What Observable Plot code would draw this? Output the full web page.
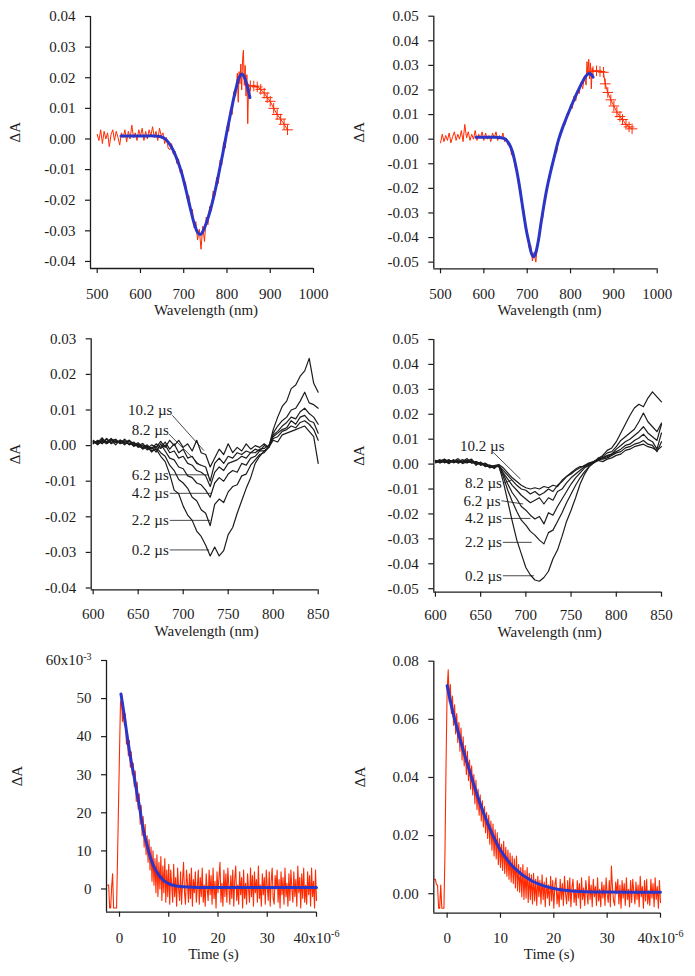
<!DOCTYPE html>
<html><head><meta charset="utf-8">
<script src="https://cdn.jsdelivr.net/npm/d3@7"></script>
<script src="https://cdn.jsdelivr.net/npm/@observablehq/plot@0.6"></script>
<style>
body{margin:0;background:#fff;}
#fig{position:relative;width:695px;height:976px;background:#fff;overflow:hidden;}
#fig > div{position:absolute;}
#fig svg, #fig svg text{font-family:"Liberation Serif","Times New Roman",serif !important;}
</style></head><body><div id="fig"></div>
<script>
// ---------- Panel 1 (top-left): spectrum, values in 10^-3 ΔA ----------
const p1RedWl = [500,504,508,512,516,520,524,528,532,536,540,544,548,552,556,560,564,568,572,576,580,584,588,592,596,600,604,608,612,616,620,624,628,632,636,640,644,648,652,656,660,664,668,672,676,680,684,688,692,696,700,704,708,712,716,720,724,728,732,736,740,744,748,752,756,760,764,768,772,776,780,784,788,792,796,800,804,808,812,816,820,824,826,828,830,832,834,836,838,840,842,844,846,848,850,852,854];
const p1RedVal = [1.5,-0.5,3.0,-1.5,2.5,0.0,2.0,-2.5,1.5,3.0,-0.5,2.5,0.5,-2.0,2.0,0.5,3.0,-1.0,2.5,0.0,4.5,0.5,2.0,-0.5,3.0,1.0,3.5,-0.5,2.5,0.0,3.0,1.0,4.0,0.5,2.5,-0.5,3.5,1.0,2.0,-1.5,0.5,-3.0,-3.5,-1.5,-5.0,-4.0,-8.0,-6.5,-11.0,-10.0,-15.0,-14.0,-19.5,-18.5,-24.0,-23.0,-29.0,-27.0,-33.0,-29.5,-36.0,-28.5,-33.5,-25.5,-28.0,-22.0,-23.5,-17.0,-18.5,-12.5,-14.5,-7.0,-8.5,-1.0,-3.0,4.0,2.5,9.5,8.0,15.5,14.0,21.5,12.0,22.0,18.0,24.5,16.0,26.0,29.0,17.5,24.0,14.0,21.0,5.0,18.0,14.0,17.0];
const p1TailWl = [854,862,870,878,886,893,900,908,916,924,932,940];
const p1TailVal = [17.4,17.3,17.0,16.2,15.0,13.5,12.3,10.0,8.0,6.5,4.8,3.0];
const p1FitWl = [555,570,590,610,630,645,655,665,675,685,695,705,715,725,732,738,745,752,760,770,780,790,800,810,820,828,835,842,848,853];
const p1FitVal = [1.0,1.0,1.0,1.0,1.0,0.8,0.2,-1.2,-3.5,-6.8,-11.0,-16.5,-22.5,-28.0,-30.5,-31.2,-30.0,-27.5,-24.0,-18.5,-12.0,-5.0,2.5,9.5,16.0,20.0,21.2,19.5,16.5,13.5];
const p1XTicks = [500,600,700,800,900,1000];
const p1XLabels = ["500","600","700","800","900","1000"];
const p1YTicks = [-40,-30,-20,-10,0,10,20,30,40];
const p1YLabels = ["-0.04","-0.03","-0.02","-0.01","0.00","0.01","0.02","0.03","0.04"];

// ---------- Panel 2 (top-right) ----------
const p2RedWl = [500,504,508,512,516,520,524,528,532,536,540,544,548,552,556,560,564,568,572,576,580,584,588,592,596,600,604,608,612,616,620,624,628,632,636,640,644,648,652,656,660,664,668,672,676,680,684,688,692,696,700,704,708,712,716,720,724,728,732,736,740,744,748,752,756,760,764,768,772,776,780,784,788,792,796,800,804,808,812,816,820,824,828,832,836,838,840,842,844,846,848,850,852];
const p2RedVal = [-1.5,2.0,-1.0,1.5,-0.5,2.5,-1.5,1.0,3.0,-0.5,2.0,0.0,3.5,-1.0,6.0,0.5,3.0,-0.5,2.0,0.0,3.5,-0.5,2.0,0.5,3.0,-0.5,2.5,0.0,1.5,-1.0,2.5,0.5,3.0,-0.5,1.5,0.0,2.5,-1.0,0.5,-2.5,-2.0,-6.5,-5.0,-11.5,-12.0,-18.5,-19.0,-28.0,-29.0,-36.5,-37.0,-44.0,-43.0,-49.5,-46.0,-50.0,-42.5,-41.0,-33.0,-32.0,-24.5,-23.0,-16.5,-16.0,-10.5,-10.0,-5.0,-5.5,-0.5,1.5,3.0,6.5,6.0,10.5,10.0,14.0,12.5,17.5,15.5,20.0,18.5,23.0,20.5,25.5,22.0,31.5,26.0,32.5,24.5,31.0,20.5,29.0,27.5];
const p2TailWl = [852,860,868,876,880,886,893,900,907,914,920,928,935,942];
const p2TailVal = [27.5,27.8,27.5,27.2,22.5,19.0,16.0,13.5,11.0,9.2,8.0,6.0,5.0,4.2];
const p2FitWl = [582,600,620,640,650,658,665,672,680,686,692,698,704,710,715,720,726,732,738,745,753,762,772,782,792,803,815,826,836,843,848,852];
const p2FitVal = [0.8,0.8,0.8,0.6,0.0,-1.8,-4.6,-9.5,-16.8,-23.5,-30.5,-37.0,-42.0,-46.5,-47.8,-46.0,-41.0,-34.0,-27.5,-20.5,-14.0,-7.5,-0.5,4.8,9.3,14.0,18.8,22.8,25.8,26.7,26.3,25.2];
const p2YTicks = [-50,-40,-30,-20,-10,0,10,20,30,40,50];
const p2YLabels = ["-0.05","-0.04","-0.03","-0.02","-0.01","0.00","0.01","0.02","0.03","0.04","0.05"];

// ---------- Panel 3 (middle-left): time-resolved spectra ----------
const p3Wl = [600,605,610,615,620,625,630,635,640,645,650,655,660,665,670,675,680,685,690,695,700,705,710,715,720,725,730,735,740,745,750,755,760,765,770,775,780,785,790,795,800,805,810,815,820,825,830,835,840,845,850];
const p3Names = ["0.2 µs","2.2 µs","4.2 µs","6.2 µs","8.2 µs","10.2 µs"];
const p3T02 = [1.0,0.5,1.8,1.0,2.0,0.8,1.5,0.5,1.2,-0.2,0.3,-0.8,-0.5,-1.5,-1.0,-3.0,-4.5,-8.0,-12.5,-13.5,-17.0,-19.5,-21.0,-24.0,-25.5,-28.0,-31.0,-28.5,-31.0,-29.5,-25.0,-23.0,-19.0,-15.5,-12.0,-9.0,-5.0,-3.0,-1.5,-0.5,4.5,8.0,11.0,12.5,16.0,17.0,19.5,21.0,24.5,17.5,15.0];
const p3T22 = [1.2,0.2,1.5,0.8,1.8,1.0,1.2,0.2,1.5,0.0,0.5,-1.0,-0.2,-1.8,-0.5,-2.0,-3.0,-5.5,-7.0,-9.5,-10.5,-12.0,-14.5,-15.5,-18.0,-19.0,-22.5,-16.5,-15.0,-16.0,-13.0,-11.5,-11.0,-8.5,-8.0,-5.5,-4.0,-2.5,-2.0,-0.5,3.5,5.5,7.0,8.0,10.0,10.5,12.5,15.0,12.0,11.5,10.5];
const p3T42 = [0.8,1.2,0.5,1.8,0.8,1.6,0.5,1.4,0.2,0.8,-0.5,0.2,-1.2,-0.5,-1.8,0.5,-1.5,-3.5,-4.0,-6.0,-6.5,-8.5,-9.0,-10.5,-11.0,-12.5,-14.5,-10.5,-9.0,-10.0,-8.0,-7.0,-7.5,-5.0,-5.5,-3.5,-3.0,-1.5,-1.5,-0.5,3.0,4.0,5.5,6.5,8.0,7.5,9.5,10.5,9.0,8.0,6.0];
const p3T62 = [1.5,0.5,1.2,0.5,1.5,0.2,1.6,0.8,0.5,1.0,-0.2,-0.5,0.2,-1.0,-0.2,-0.8,0.2,-2.0,-1.5,-3.5,-3.0,-5.0,-5.5,-7.0,-7.5,-8.5,-11.5,-7.5,-6.0,-7.0,-5.0,-4.5,-4.0,-3.0,-3.5,-2.0,-2.0,-1.0,-0.8,0.0,2.5,3.5,4.5,5.0,7.0,6.0,8.0,8.5,7.0,6.5,3.5];
const p3T82 = [0.5,1.5,0.8,2.0,0.5,1.2,0.8,1.8,0.5,0.2,0.8,-0.5,-0.2,-0.8,0.5,-0.5,1.0,-1.0,0.5,-2.0,-1.0,-3.5,-3.0,-5.0,-5.5,-6.0,-10.0,-5.0,-3.5,-5.0,-3.0,-3.5,-2.0,-2.5,-1.5,-2.0,-1.0,-1.5,0.0,-0.5,2.0,2.5,4.0,4.5,5.5,5.0,6.5,7.0,6.0,4.5,1.5];
const p3T102 = [1.0,0.8,2.2,0.6,1.4,1.8,0.6,1.0,1.5,0.4,0.0,0.6,-0.8,0.2,-0.5,1.2,-0.5,1.5,0.0,1.5,-0.5,0.5,-1.5,1.5,-2.0,-2.5,-6.0,-3.5,-1.0,-2.5,0.5,-2.0,-0.5,-1.5,0.5,-1.0,0.0,-0.5,0.5,-0.5,1.5,1.0,3.0,3.5,4.0,4.5,5.0,5.5,4.0,2.5,-5.0];
const p3TextX = [684,684,684,684,684,688];
const p3TextY = [-29.3,-21.0,-13.4,-8.4,4.4,10.0];
const p3LeadX1 = [685,685,685,685,684,688];
const p3LeadY1 = [-29.3,-21.0,-13.4,-8.2,3.3,8.5];
const p3LeadX2 = [729,730,731,728.5,719,723];
const p3LeadY2 = [-29.3,-21.0,-13.4,-8.2,-5.6,-1.4];
const p3XTicks = [600,650,700,750,800,850];
const p3XLabels = ["600","650","700","750","800","850"];
const p3YTicks = [-40,-30,-20,-10,0,10,20,30];
const p3YLabels = ["-0.04","-0.03","-0.02","-0.01","0.00","0.01","0.02","0.03"];

// ---------- Panel 4 (middle-right) ----------
const p4Wl = p3Wl;
const p4T02 = [1.0,1.8,0.5,1.5,0.8,1.6,0.2,1.2,2.0,0.0,0.5,-0.8,-1.0,-1.5,-0.5,-7.0,-15.0,-23.0,-30.5,-36.0,-41.5,-44.5,-46.5,-47.0,-45.5,-43.0,-38.0,-34.5,-29.0,-23.0,-18.5,-13.5,-8.0,-4.0,-1.0,0.5,2.0,3.5,5.5,6.5,9.0,12.5,16.0,19.5,22.5,24.0,23.0,26.5,29.0,27.0,25.0];
const p4T22 = [1.5,0.5,1.2,0.2,1.8,0.5,1.0,2.2,0.5,1.0,-0.5,0.2,-1.5,-0.8,-1.0,-5.0,-10.5,-15.0,-19.0,-22.5,-24.5,-27.0,-28.5,-30.5,-32.0,-27.5,-26.5,-23.0,-19.5,-15.5,-12.0,-8.5,-5.5,-3.0,-1.0,0.5,2.5,3.0,4.5,5.0,7.0,9.5,11.0,12.5,14.0,17.0,20.5,17.0,15.0,13.0,16.5];
const p4T42 = [0.5,1.2,2.0,0.8,1.0,2.2,0.8,0.5,1.5,-0.5,0.8,-1.0,-0.5,-1.8,-0.2,-4.0,-8.0,-11.5,-14.0,-17.0,-18.5,-20.5,-22.0,-21.0,-24.0,-19.5,-20.5,-17.0,-14.0,-11.0,-8.0,-5.5,-3.5,-1.5,-0.5,1.0,2.0,2.5,3.5,4.0,6.0,7.5,9.0,10.0,11.5,13.0,15.0,12.5,11.0,9.5,16.0];
const p4T62 = [1.2,0.8,1.6,0.4,1.4,0.8,1.8,0.6,1.0,0.6,-0.2,0.4,-0.8,-1.2,-0.6,-3.5,-6.0,-8.5,-10.5,-12.5,-14.0,-15.5,-14.5,-13.5,-16.0,-13.5,-14.5,-11.0,-10.0,-7.5,-5.5,-4.0,-2.5,-1.0,0.0,1.0,1.5,2.5,3.0,4.0,5.0,6.0,7.5,8.0,9.5,10.5,12.0,10.0,9.0,6.0,12.5];
const p4T82 = [0.8,1.5,1.0,1.8,0.5,1.2,0.8,1.6,0.4,1.0,0.2,-0.6,-0.4,-1.0,-0.5,-2.5,-4.5,-6.5,-8.5,-10.0,-10.5,-12.0,-11.0,-12.5,-11.5,-10.0,-11.0,-8.5,-7.0,-5.0,-4.0,-2.5,-1.5,-0.5,0.5,1.0,2.0,2.0,2.5,3.5,4.5,5.0,6.5,7.0,8.0,8.5,9.5,8.0,7.5,5.0,9.0];
const p4T102 = [1.4,0.6,1.2,1.0,1.6,0.4,1.2,1.0,0.8,0.2,0.6,-0.2,-1.0,-0.6,-0.2,-1.5,-3.5,-5.5,-7.0,-8.5,-9.5,-10.0,-9.5,-10.0,-9.0,-9.5,-8.5,-9.0,-6.5,-5.0,-3.5,-2.0,-1.0,-1.0,0.0,0.5,1.5,1.0,2.0,2.5,3.5,4.0,5.5,6.0,7.0,7.5,8.0,7.0,6.5,5.5,7.0];
const p4TextX = [673.5,673.5,673.5,672,673.5,676.5];
const p4TextY = [-44.8,-31.4,-21.8,-14.7,-7.7,7.2];
const p4LeadX1 = [674.5,674.5,674.5,673,674.5,664];
const p4LeadY1 = [-44.8,-31.4,-21.8,-14.7,-7.7,4.7];
const p4LeadX2 = [709,706.5,705,697,684.5,694];
const p4LeadY2 = [-44.8,-31.4,-21.8,-16.0,-6.4,-6.0];
const p4YTicks = p2YTicks;
const p4YLabels = p2YLabels;

// ---------- Panels 5 and 6 (bottom): kinetic traces, time in 10^-6 s ----------
const tGrid = [
 -2.4,-2.2,-2.0,-1.8,-1.6,-1.4,-1.2,-1.0,-0.8,-0.6,
 -0.4,-0.2,0.0,0.2,
 0.4,0.6,0.8,1.0,1.2,1.4,1.6,1.8,2.0,2.2,2.4,2.6,2.8,3.0,3.2,3.4,3.6,3.8,4.0,4.2,
 4.4,4.6,4.8,5.0,5.2,5.4,5.6,5.8,6.0,6.2,6.4,6.6,6.8,7.0,7.2,7.4,7.6,7.8,8.0,8.2,
 8.4,8.6,8.8,9.0,9.2,9.4,9.6,9.8,10.0,
 10.2,10.4,10.6,10.8,11.0,11.2,11.4,11.6,11.8,12.0,
 12.2,12.4,12.6,12.8,13.0,13.2,13.4,13.6,13.8,14.0,
 14.2,14.4,14.6,14.8,15.0,15.2,15.4,15.6,15.8,16.0,
 16.2,16.4,16.6,16.8,17.0,17.2,17.4,17.6,17.8,18.0,
 18.2,18.4,18.6,18.8,19.0,19.2,19.4,19.6,19.8,20.0,
 20.2,20.4,20.6,20.8,21.0,21.2,21.4,21.6,21.8,22.0,
 22.2,22.4,22.6,22.8,23.0,23.2,23.4,23.6,23.8,24.0,
 24.2,24.4,24.6,24.8,25.0,25.2,25.4,25.6,25.8,26.0,
 26.2,26.4,26.6,26.8,27.0,27.2,27.4,27.6,27.8,28.0,
 28.2,28.4,28.6,28.8,29.0,29.2,29.4,29.6,29.8,30.0,
 30.2,30.4,30.6,30.8,31.0,31.2,31.4,31.6,31.8,32.0,
 32.2,32.4,32.6,32.8,33.0,33.2,33.4,33.6,33.8,34.0,
 34.2,34.4,34.6,34.8,35.0,35.2,35.4,35.6,35.8,36.0,
 36.2,36.4,36.6,36.8,37.0,37.2,37.4,37.6,37.8,38.0,
 38.2,38.4,38.6,38.8,39.0,39.2,39.4,39.6,39.8,40.0];
const p5RedVal = [
 1.0,1.0,-5.0,-5.0,0.5,4.0,-5.0,-5.0,-5.0,-5.0,
 8.0,22.0,36.0,49.0,
 50,44,47,43,46,38,41,35,39,32,36,30,33,27,31,23,28,21,25,17,
 22,14,19,11,17,9,14,7,13,5,11,2,10,1,8,-1,9,-2,7,0,
 8.5,-3,6,-1,8,-3.5,5,-2,6.5,
 -4,5,1,-3.5,6.5,-2,3,-4.5,5.5,0,
 -3,4.5,-4,2,7,-1,-4,5,1.5,-3.5,
 4,-2.5,5.5,-4.5,2.5,-1,4.5,-3.5,0.5,5,
 -4,3,-2,5.5,-3.5,1,-4.5,4,0,-3,
 5,-1.5,3.5,-4,5.5,-2.5,2,-5,4.5,-1,
 3,7,-3.5,1.5,-4.5,5,-2,4,-3.5,5.5,
 0.5,-4,3.5,-2.5,5,-4.5,2.5,6,-3,1,
 -4,4.5,-1.5,3,-5,5,-2.5,1.5,-4,4,
 0,-3.5,5.5,-2,3.5,-4.5,4.5,-1,2.5,-3.5,
 6,-2.5,1,-4.5,4,-1.5,3,-4,5,0.5,
 -3,4.5,-4.5,2,5.5,-2.5,-4,3.5,0,5,
 -3.5,2.5,-5,4.5,-1.5,3,-4,5.5,-2,1.5,
 -4.5,4,-3,5,0,-3.5,4.5,-2,2.5,-4.5,
 6,-1,3,-5,4,-2.5,5.5,-3.5,1,-4,
 4.5,-1.5,3.5,-4.5,5.5,-2,2,-5,5,-3];
const p5FitT = [0.3,0.8,1.3,1.8,2.3,2.9,3.5,4.0,4.5,5.0,5.5,6.0,6.5,7.0,8.0,9.0,10,11,12,14,16,20,25,30,35,40];
const p5FitVal = [51.2,47.0,42.5,38.0,34.0,30.0,25.5,22.0,18.0,14.5,12.0,9.5,7.5,5.8,3.6,2.2,1.4,0.9,0.7,0.5,0.4,0.4,0.4,0.4,0.4,0.4];
const p5XTicks = [0,10,20,30,40];
const p5XLabels = ["0","10","20","30","40x10"];
const p5YTicks = [0,10,20,30,40,50,60];
const p5YLabels = ["0","10","20","30","40","50","60x10"];
const expLabels = {"40x10": "-6", "60x10": "-3"};

const p6RedVal = [
 5,5,3,3,-5,-5,3,-5,-5,-5,
 15,45,70,77,
 66,72,62,68,58,65,55,62,52,59,49,57,46,54,44,51,41,49,39,46,
 36,44,34,41,31,39,29,36,27,34,25,32,23,30,21,28,19,27,17,25,
 15,24,13,22,12,21,10,19,9,
 17,8,18,7,16,6,15,5,14,4,
 13,3.5,12,2,13,1,10,0.5,9,-1,
 10,-2,8,-1.5,9,-3,7,-2,6.5,-3.5,
 7,-2.5,5,-4,6,-1,4.5,-3.5,6.5,-2,
 4,-4.5,5.5,-1.5,3,-4,6,-2.5,4.5,-5,
 3,5.5,-3.5,1,-4.5,5,-2,3.5,-4,6,
 0,-3.5,4.5,-2.5,5.5,-4.5,2,5,-3,1.5,
 -4,4.5,-1.5,3.5,-5,5.5,-2,2,-4,4.5,
 0.5,-3.5,6,-2,3,-4.5,5,-1,2.5,-4,
 5.5,-2.5,1.5,-4.5,4,-1.5,3,-4,5.5,0,
 -3,4.5,-4.5,9.5,2,-2.5,-4,4,0,5,
 -3.5,3,-5,4.5,-1.5,3.5,-4,5.5,-2,1.5,
 -4.5,4.5,-3,5,0.5,-3.5,4,-2,3,-4.5,
 6,-1,2.5,-5,4.5,-2.5,5,-3.5,1,-4,
 5,-1.5,3.5,-4.5,5.5,-2,2.5,-5,4.5,-3];
const p6FitT = [0,1,2,3,4,5,6,7,8,9,10,11,12,13,14,15,16,18,20,22,25,30,35,40];
const p6FitVal = [71.6,63,56,49.5,43.5,37.5,32,27,22.5,18.5,15,12.3,10,8.2,6.6,5.4,4.3,2.8,1.8,1.2,0.8,0.6,0.5,0.5];
const p6YTicks = [0,20,40,60,80];
const p6YLabels = ["0.00","0.02","0.04","0.06","0.08"];

// ---------- drawing ----------
const FONT = "'Liberation Serif','Times New Roman',serif";
const RED = "#ff2a00", BLUE = "#2b36c9", INK = "#1c1c1c";
const fig = document.getElementById("fig");
const pairs = (xs, ys) => xs.map((x, i) => ({x, y: ys[i]}));
const lookup = (ticks, labels) => d => labels[ticks.indexOf(d)];

function panel(o) {
  const chart = Plot.plot({
    width: o.width, height: o.height,
    marginTop: o.m[0], marginRight: o.m[1], marginBottom: o.m[2], marginLeft: o.m[3],
    style: {fontFamily: FONT, fontSize: "15px", color: INK, background: "transparent", maxWidth: "none", overflow: "visible"},
    x: {domain: o.xDomain},
    y: {domain: o.yDomain},
    marks: [
      ...o.marks,
      Plot.ruleX([o.xDomain[0]], {stroke: INK, strokeWidth: 1.3}),
      Plot.ruleY([o.yDomain[0]], {stroke: INK, strokeWidth: 1.3}),
      Plot.axisX(o.xTicks, {tickSize: 5, tickPadding: o.xPad, tickFormat: lookup(o.xTicks, o.xLabels), label: null, stroke: INK, strokeWidth: 1.2, fontSize: 15, fontFamily: FONT}),
      Plot.axisY(o.yTicks, {tickSize: 5, tickPadding: 10, tickFormat: lookup(o.yTicks, o.yLabels), label: null, stroke: INK, strokeWidth: 1.2, fontSize: 15, fontFamily: FONT}),
      Plot.text([o.xTitle], {frameAnchor: "bottom", dy: o.xTitleDy, dx: o.xTitleDx, fontSize: 15, fill: INK, fontFamily: FONT}),
      Plot.text(["ΔA"], {frameAnchor: "left", dx: o.yTitleDx, rotate: -90, fontSize: 15, fill: INK, fontFamily: FONT})
    ]
  });
  chart.querySelectorAll("text").forEach(t => {
    const e = expLabels[t.textContent];
    if (e) {
      const ts = document.createElementNS("http://www.w3.org/2000/svg", "tspan");
      ts.setAttribute("dy", "-0.55em");
      ts.setAttribute("font-size", "10");
      ts.textContent = e;
      t.appendChild(ts);
    }
  });
  const div = document.createElement("div");
  div.style.left = o.left + "px";
  div.style.top = o.top + "px";
  div.style.width = o.width + "px";
  div.style.height = o.height + "px";
  div.appendChild(chart);
  fig.appendChild(div);
}

function traceRows(wl, names, series) {
  const out = [];
  series.forEach((vals, k) => vals.forEach((v, i) => out.push({x: wl[i], y: v, s: names[k]})));
  return out;
}
function labelRows(names, tx, ty, x1, y1, x2, y2) {
  return names.map((s, i) => ({s, tx: tx[i], ty: ty[i], x1: x1[i], y1: y1[i], x2: x2[i], y2: y2[i]}));
}
function spectrumMarks(redWl, redVal, tailWl, tailVal, fitWl, fitVal) {
  const tail = pairs(tailWl, tailVal);
  return [
    Plot.line(pairs(redWl, redVal), {x: "x", y: "y", stroke: RED, strokeWidth: 1}),
    Plot.line(tail, {x: "x", y: "y", stroke: RED, strokeWidth: 1}),
    Plot.dot(tail, {x: "x", y: "y", symbol: "plus", r: 3.5, stroke: RED, strokeWidth: 1}),
    Plot.line(pairs(fitWl, fitVal), {x: "x", y: "y", stroke: BLUE, strokeWidth: 3, curve: "catmull-rom"})
  ];
}
function kineticMarks(redVal, fitT, fitVal) {
  return [
    Plot.line(pairs(tGrid, redVal), {x: "x", y: "y", stroke: RED, strokeWidth: 1.1}),
    Plot.line(pairs(fitT, fitVal), {x: "x", y: "y", stroke: BLUE, strokeWidth: 3, curve: "catmull-rom"})
  ];
}
function transientMarks(wl, series, lab) {
  return [
    Plot.line(traceRows(wl, p3Names, series), {x: "x", y: "y", z: "s", stroke: INK, strokeWidth: 1.2}),
    Plot.link(lab, {x1: "x1", y1: "y1", x2: "x2", y2: "y2", stroke: INK, strokeWidth: 0.8}),
    Plot.text(lab, {x: "tx", y: "ty", text: "s", textAnchor: "end", fontSize: 15, fill: INK, fontFamily: FONT})
  ];
}

panel({left: 0, top: 0, width: 345, height: 320, m: [16, 32, 52, 90],
  xDomain: [484.5, 1000], yDomain: [-42.3, 40], xPad: 14.5,
  xTicks: p1XTicks, xLabels: p1XLabels, yTicks: p1YTicks, yLabels: p1YLabels,
  xTitle: "Wavelength (nm)", xTitleDy: 46.5, xTitleDx: 4, yTitleDx: -75,
  marks: spectrumMarks(p1RedWl, p1RedVal, p1TailWl, p1TailVal, p1FitWl, p1FitVal)});

panel({left: 345, top: 0, width: 350, height: 320, m: [15.7, 38.3, 51.7, 88.3],
  xDomain: [484.5, 1000], yDomain: [-52.7, 50], xPad: 14.5,
  xTicks: p1XTicks, xLabels: p1XLabels, yTicks: p2YTicks, yLabels: p2YLabels,
  xTitle: "Wavelength (nm)", xTitleDy: 46.5, xTitleDx: 4, yTitleDx: -75,
  marks: spectrumMarks(p2RedWl, p2RedVal, p2TailWl, p2TailVal, p2FitWl, p2FitVal)});

panel({left: 0, top: 320, width: 345, height: 320, m: [18.3, 27.3, 50.7, 90.7],
  xDomain: [597.8, 850], yDomain: [-40.5, 30], xPad: 14,
  xTicks: p3XTicks, xLabels: p3XLabels, yTicks: p3YTicks, yLabels: p3YLabels,
  xTitle: "Wavelength (nm)", xTitleDy: 46, xTitleDx: 2, yTitleDx: -75.7,
  marks: transientMarks(p3Wl, [p3T02, p3T22, p3T42, p3T62, p3T82, p3T102],
    labelRows(p3Names, p3TextX, p3TextY, p3LeadX1, p3LeadY1, p3LeadX2, p3LeadY2))});

panel({left: 345, top: 320, width: 350, height: 320, m: [19, 34, 48.3, 88.3],
  xDomain: [598.2, 850], yDomain: [-51.4, 50], xPad: 12,
  xTicks: p3XTicks, xLabels: p3XLabels, yTicks: p4YTicks, yLabels: p4YLabels,
  xTitle: "Wavelength (nm)", xTitleDy: 44.5, xTitleDx: 2, yTitleDx: -74.3,
  marks: transientMarks(p4Wl, [p4T02, p4T22, p4T42, p4T62, p4T82, p4T102],
    labelRows(p3Names, p4TextX, p4TextY, p4LeadX1, p4LeadY1, p4LeadX2, p4LeadY2))});

panel({left: 0, top: 640, width: 345, height: 336, m: [20, 29, 64.3, 106],
  xDomain: [-2.64, 40], yDomain: [-6.1, 60], xPad: 15,
  xTicks: p5XTicks, xLabels: p5XLabels, yTicks: p5YTicks, yLabels: p5YLabels,
  xTitle: "Time (s)", xTitleDy: 46.5, xTitleDx: 2, yTitleDx: -89.3,
  marks: kineticMarks(p5RedVal, p5FitT, p5FitVal)});

panel({left: 345, top: 640, width: 350, height: 336, m: [20.7, 35, 63.3, 88.3],
  xDomain: [-2.5, 40], yDomain: [-6.7, 80], xPad: 14,
  xTicks: p5XTicks, xLabels: p5XLabels, yTicks: p6YTicks, yLabels: p6YLabels,
  xTitle: "Time (s)", xTitleDy: 46, xTitleDx: 2, yTitleDx: -73.3,
  marks: kineticMarks(p6RedVal, p6FitT, p6FitVal)});
</script></body></html>
